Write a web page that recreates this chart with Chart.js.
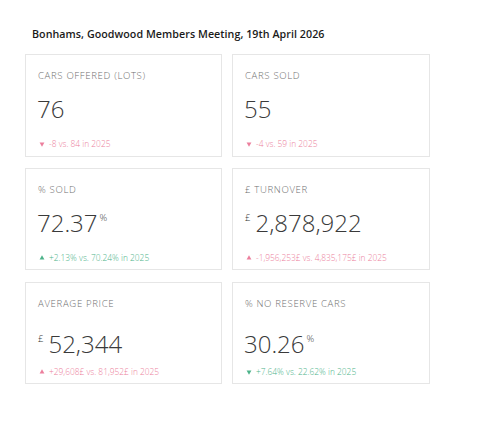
<!DOCTYPE html>
<html>
<head>
<meta charset="utf-8">
<script src="https://cdn.jsdelivr.net/npm/chart.js@4"></script>
<style>
  html, body { margin:0; padding:0; background:#fff; }
  body { width:500px; height:430px; position:relative; overflow:hidden; font-family:"Open Sans", "Lato", sans-serif; }
  #title { position:absolute; left:32px; top:27px; font-size:10.7px; font-weight:600; color:#1a1a1a; letter-spacing:0.05px; white-space:nowrap; }
  .card { position:absolute; border:1px solid #e6e6e6; box-sizing:border-box; background:#fff; }
  .lbl { position:absolute; left:12px; top:14px; font-size:9.6px; font-weight:300; color:#6f6f6f; letter-spacing:0.65px; white-space:nowrap; }
  .val { position:absolute; left:11px; top:42px; font-size:24px; font-weight:300; color:#3a3a3a; white-space:nowrap; line-height:1; }
  .row3 .val { top:49px; }
  .val sup { font-size:9.5px; vertical-align:top; position:relative; top:2px; margin:0 2px 0 2px; }
  .val sup.pre { margin:0 5px 0 1px; }
  .dlt { position:absolute; left:12px; top:85px; font-size:8.4px; font-weight:300; white-space:nowrap; line-height:1; display:flex; align-items:center; }
  .dlt canvas { margin-right:3px; }
</style>
</head>
<body>
<div id="title"></div>
<div id="cards"></div>
<script>
const title = "Bonhams, Goodwood Members Meeting, 19th April 2026";
const labels = ["CARS OFFERED (LOTS)", "CARS SOLD", "% SOLD", "£ TURNOVER", "AVERAGE PRICE", "% NO RESERVE CARS"];
const values = [76, 55, 72.37, 2878922, 52344, 30.26];
const prevValues = [84, 59, 70.24, 4835175, 81952, 22.62];
const changes = [-8, -4, 2.13, -1956253, 29608, 7.64];
const prefixes = ["", "", "", "£", "£", ""];
const suffixes = ["", "", "%", "", "", "%"];
const deltaUnits = ["", "", "%", "£", "£", "%"];
const directions = ["down", "down", "up", "up", "up", "down"];
const trend = ["bad", "bad", "good", "bad", "bad", "good"];
const prevYear = "2025";

const colours = { good: "#4db38a", bad: "#ec7f9d" };
const colLeft = [25, 232];
const rowTop = [54, 168, 282];

document.getElementById('title').textContent = title;

function fmt(v) {
  const dec = Number.isInteger(v) ? 0 : 2;
  return v.toLocaleString('en-US', { minimumFractionDigits: dec, maximumFractionDigits: dec });
}

const container = document.getElementById('cards');
labels.forEach((lab, i) => {
  const card = document.createElement('div');
  const row = Math.floor(i / 2), col = i % 2;
  card.className = 'card row' + (row + 1);
  card.style.left = colLeft[col] + 'px';
  card.style.top = rowTop[row] + 'px';
  card.style.width = (col === 0 ? 197 : 198) + 'px';
  card.style.height = (row === 0 ? 103 : 102) + 'px';

  const l = document.createElement('div');
  l.className = 'lbl';
  l.textContent = lab;
  card.appendChild(l);

  const v = document.createElement('div');
  v.className = 'val';
  if (prefixes[i]) {
    const s = document.createElement('sup'); s.className = 'pre'; s.textContent = prefixes[i]; v.appendChild(s);
  }
  v.appendChild(document.createTextNode(fmt(values[i])));
  if (suffixes[i]) {
    const s = document.createElement('sup'); s.textContent = suffixes[i]; v.appendChild(s);
  }
  card.appendChild(v);

  const d = document.createElement('div');
  d.className = 'dlt';
  d.style.color = colours[trend[i]];
  const cv = document.createElement('canvas');
  cv.style.width = '8px'; cv.style.height = '8px';
  d.appendChild(cv);
  const sign = changes[i] > 0 ? '+' : '-';
  const u = deltaUnits[i];
  const txt = sign + fmt(Math.abs(changes[i])) + u + ' vs. ' + fmt(prevValues[i]) + u + ' in ' + prevYear;
  const sp = document.createElement('span');
  sp.textContent = txt;
  d.appendChild(sp);
  card.appendChild(d);
  container.appendChild(card);

  new Chart(cv, {
    type: 'scatter',
    data: { datasets: [{
      data: [{ x: 0, y: 0 }],
      showLine: false,
      pointStyle: 'triangle',
      pointRotation: directions[i] === 'down' ? 180 : 0,
      pointRadius: 2.8,
      pointHoverRadius: 2.8,
      pointBackgroundColor: colours[trend[i]],
      pointBorderColor: colours[trend[i]],
      pointBorderWidth: 0
    }] },
    options: {
      responsive: false,
      maintainAspectRatio: false,
      animation: false,
      events: [],
      clip: false,
      layout: { padding: 0 },
      plugins: { legend: { display: false }, tooltip: { enabled: false } },
      scales: {
        x: { display: false, min: -1, max: 1 },
        y: { display: false, min: -1, max: 1 }
      }
    }
  });
});
</script>
</body>
</html>
